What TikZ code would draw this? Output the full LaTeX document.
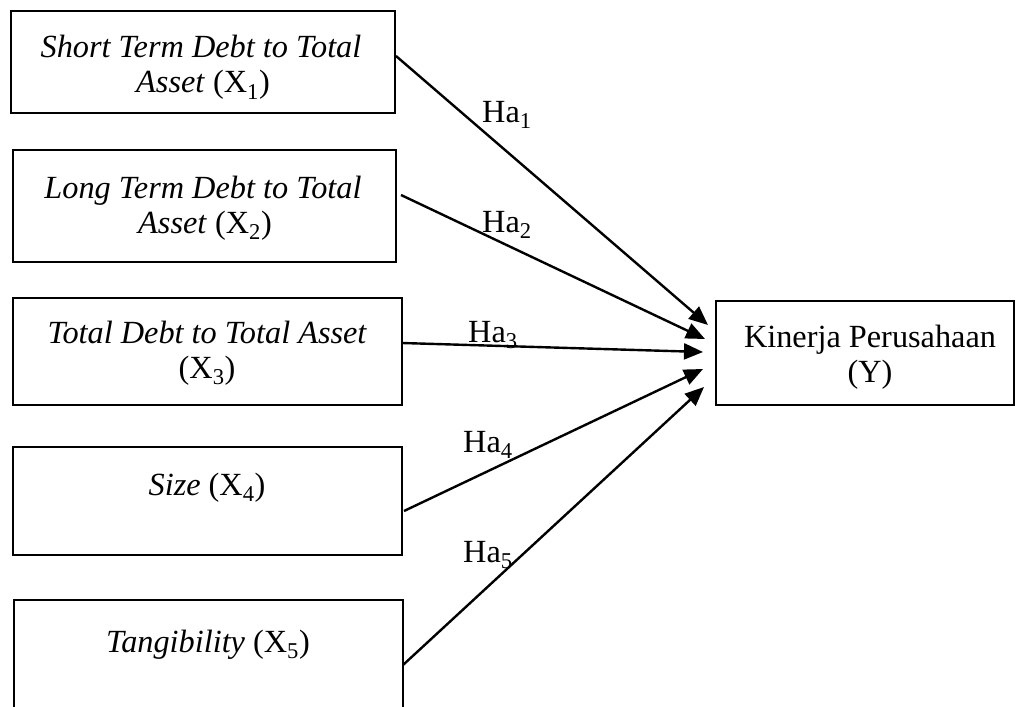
\documentclass[tikz,border=0pt]{standalone}
\usepackage{fontspec}
\setmainfont{Liberation Serif}
\usetikzlibrary{arrows.meta}
\begin{document}
\begin{tikzpicture}[x=1pt,y=-1pt,
  box/.style={draw=black,line width=2.9pt,inner sep=0pt},
  txt/.style={inner sep=0pt,anchor=base,font=\fontsize{32.3}{35}\selectfont},
  lbl/.style={inner sep=0pt,anchor=base west,font=\fontsize{32.3}{35}\selectfont},
  arr/.style={line width=2.4pt,-{Triangle[length=19pt,width=16pt]}}]
\useasboundingbox (0,0) rectangle (1016,706);
% boxes
\node[box,minimum width=384pt,minimum height=102pt] (b1) at (203,62) {};
\node[box,minimum width=383pt,minimum height=112pt] (b2) at (204.5,206) {};
\node[box,minimum width=389pt,minimum height=107pt] (b3) at (207.5,351.5) {};
\node[box,minimum width=389pt,minimum height=108pt] (b4) at (207.5,501) {};
\node[box,minimum width=389pt,minimum height=140pt] (b5) at (208.5,670) {};
\node[box,minimum width=298pt,minimum height=104pt] (y) at (865,353) {};
% texts
\node[txt] (t1a) at (201,58) {\itshape Short Term Debt to Total};
\node[txt] (t1b) at (203,93) {\textit{Asset} (X\textsubscript{1})};
\node[txt] (t2a) at (203,198) {\itshape Long Term Debt to Total};
\node[txt] (t2b) at (205,233) {\textit{Asset} (X\textsubscript{2})};
\node[txt] (t3a) at (207,343) {\itshape Total Debt to Total Asset};
\node[txt] (t3b) at (207,378) {(X\textsubscript{3})};
\node[txt] (t4a) at (207,495) {\textit{Size} (X\textsubscript{4})};
\node[txt] (t5a) at (208,652) {\textit{Tangibility} (X\textsubscript{5})};
\node[txt] (tya) at (870,347) {Kinerja Perusahaan};
\node[txt] (tyb) at (870,382) {(Y)};
% connector ends
\coordinate (s1) at (396,56);
\coordinate (s2) at (401,195);
\coordinate (s3) at (402,343);
\coordinate (s4) at (404,511);
\coordinate (s5) at (403,665);
\coordinate (e1) at (708,325);
\coordinate (e2) at (705,339);
\coordinate (e3) at (703,352);
\coordinate (e4) at (703,369);
\coordinate (e5) at (704,387);
\draw[arr] (s1) -- (e1);
\draw[arr] (s2) -- (e2);
\draw[arr] (s3) -- (e3);
\draw[arr] (s4) -- (e4);
\draw[arr] (s5) -- (e5);
% labels
\node[lbl] (h1) at (482,122) {Ha\textsubscript{1}};
\node[lbl] (h2) at (482,232) {Ha\textsubscript{2}};
\node[lbl] (h3) at (468,342) {Ha\textsubscript{3}};
\node[lbl] (h4) at (463,452) {Ha\textsubscript{4}};
\node[lbl] (h5) at (463,562) {Ha\textsubscript{5}};
\end{tikzpicture}
\end{document}
